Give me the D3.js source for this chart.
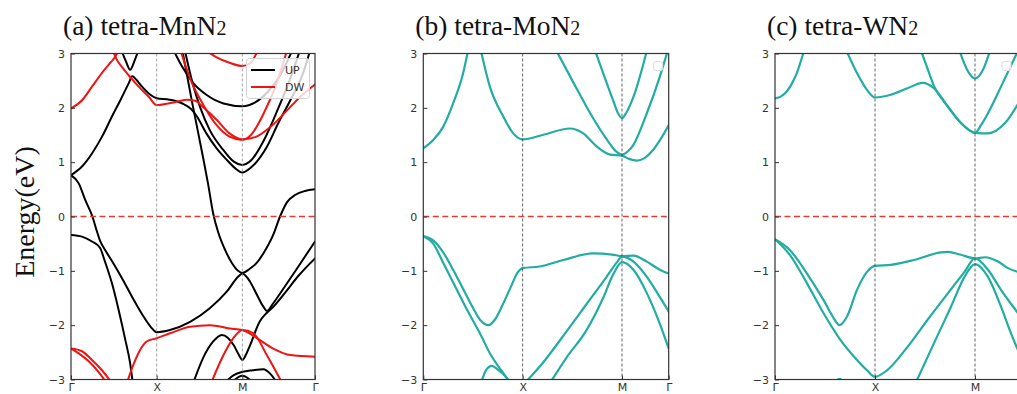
<!DOCTYPE html>
<html><head><meta charset="utf-8">
<script src="https://cdn.jsdelivr.net/npm/d3@7"></script>
<style>body{margin:0;background:#fff;overflow:hidden}</style>
</head><body><svg id="c" width="1017" height="394"></svg>
<script>
// ---------------- data ----------------
const kLabels = ["Γ","X","M","Γ"];
const yTicks = [-3,-2,-1,0,1,2,3];
const kPathA = [0,1,2,2.848];
const kPathB = [0,1,2,2.47];
const kPathC = [0,1,2,2.47];
const titleMain = ["(a) tetra-MnN","(b) tetra-MoN","(c) tetra-WN"];
const titleSub = ["2","2","2"];
const legendLabels = ["UP","DW"];

// tetra-MnN2 spin up (black)
const mnUp = [
 [[0,0.76],[0.128,0.92],[0.245,1.16],[0.362,1.47],[0.478,1.84],[0.576,2.14],[0.673,2.45],[0.715,2.58],[0.76,2.52],[0.829,2.39],[0.926,2.24],[1.0,2.175],[1.15,2.15],[1.3,2.08],[1.4,1.98],[1.47,1.84],[1.58,1.53],[1.70,1.255],[1.82,1.04],[1.915,0.89],[2.0,0.81],[2.1,0.9],[2.285,1.28],[2.42,1.72],[2.56,2.14],[2.70,2.6],[2.79,3.05]],
 [[0.59,3.05],[0.64,2.86],[0.69,2.70],[0.74,2.86],[0.785,3.05]],
 [[0,0.76],[0.09,0.61],[0.167,0.30],[0.25,0.0],[0.30,-0.26],[0.34,-0.45],[0.40,-0.62],[0.478,-0.82],[0.6,-1.15],[0.72,-1.5],[0.83,-1.8],[0.93,-2.03],[1.0,-2.13],[1.155,-2.09],[1.39,-1.94],[1.62,-1.69],[1.82,-1.38],[1.95,-1.11],[2.0,-1.05],[2.09,-1.2],[2.17,-1.44],[2.245,-1.66],[2.29,-1.74],[2.35,-1.62],[2.5,-1.28],[2.65,-0.93],[2.848,-0.46]],
 [[0,-0.34],[0.128,-0.37],[0.245,-0.46],[0.34,-0.58],[0.39,-0.8],[0.478,-1.23],[0.556,-1.72],[0.634,-2.27],[0.69,-2.7],[0.72,-3.05]],
 [[1.30,3.05],[1.42,2.05],[1.54,1.1],[1.60,0.6],[1.66,0.05],[1.72,-0.3],[1.80,-0.62],[1.88,-0.86],[1.95,-1.0],[2.0,-1.04],[2.08,-0.97],[2.17,-0.85],[2.245,-0.68],[2.36,-0.34],[2.44,0.0],[2.52,0.26],[2.62,0.40],[2.73,0.47],[2.848,0.5]],
 [[1.20,3.05],[1.30,2.75],[1.43,2.45],[1.58,2.24],[1.78,2.08],[2.0,2.03],[2.15,2.1],[2.3,2.3],[2.45,2.62],[2.58,3.05]],
 [[1.33,3.05],[1.42,2.45],[1.51,2.0],[1.62,1.59],[1.78,1.22],[1.9,1.01],[2.0,0.95],[2.1,1.03],[2.25,1.4],[2.4,1.92],[2.55,2.5],[2.67,3.05]],
 [[1.43,-3.05],[1.54,-2.61],[1.66,-2.30],[1.76,-2.18],[1.83,-2.23],[1.90,-2.37],[1.96,-2.55],[2.0,-2.64],[2.04,-2.55],[2.09,-2.37],[2.20,-1.94],[2.28,-1.78],[2.35,-1.68],[2.5,-1.4],[2.65,-1.1],[2.848,-0.77]],
 [[1.80,-3.05],[1.9,-2.92],[2.0,-2.86],[2.12,-2.83],[2.245,-2.81],[2.33,-2.9],[2.40,-3.05]],
 [[1.88,-3.05],[2.0,-2.93],[2.12,-3.05]]
];
// tetra-MnN2 spin down (red)
const mnDw = [
 [[0,1.99],[0.13,2.14],[0.245,2.39],[0.36,2.64],[0.47,2.85],[0.52,2.95],[0.55,3.05]],
 [[0.49,3.05],[0.53,2.9],[0.6,2.74],[0.673,2.6],[0.79,2.39],[0.91,2.2],[1.0,2.05],[1.2,2.1],[1.35,2.15],[1.45,2.13],[1.55,2.0],[1.7,1.78],[1.85,1.53],[2.0,1.42],[2.15,1.46],[2.35,1.68],[2.55,2.0],[2.7,2.24],[2.848,2.43]],
 [[1.28,3.05],[1.4,2.5],[1.55,2.04],[1.7,1.68],[1.85,1.47],[2.0,1.41],[2.1,1.5],[2.25,1.9],[2.4,2.45],[2.52,3.05]],
 [[1.58,3.05],[1.7,2.93],[1.85,2.83],[2.0,2.77],[2.09,2.82],[2.18,3.05]],
 [[0,-2.43],[0.128,-2.48],[0.245,-2.64],[0.362,-2.83],[0.47,-3.05]],
 [[0,-2.43],[0.09,-2.52],[0.21,-2.67],[0.32,-2.86],[0.41,-3.05]],
 [[0.655,-3.05],[0.73,-2.72],[0.805,-2.46],[0.883,-2.3],[1.0,-2.24],[1.155,-2.15],[1.39,-2.03],[1.62,-2.0],[1.855,-2.06],[2.0,-2.09],[2.17,-2.24],[2.36,-2.43],[2.56,-2.55],[2.848,-2.58]],
 [[1.64,-3.05],[1.78,-2.55],[1.895,-2.24],[2.0,-2.09],[2.13,-2.15],[2.285,-2.55],[2.46,-3.05]]
];
// tetra-MoN2 (teal)
const moBands = [
 [[0,1.255],[0.10,1.41],[0.20,1.65],[0.30,2.08],[0.40,2.63],[0.45,3.05]],
 [[0.58,3.05],[0.67,2.39],[0.805,1.84],[0.905,1.53],[1.0,1.42],[1.2,1.5],[1.476,1.62],[1.61,1.53],[1.745,1.29],[1.88,1.14],[2.0,1.12],[2.07,1.06],[2.148,1.03],[2.23,1.08],[2.31,1.22],[2.39,1.43],[2.47,1.68]],
 [[1.34,3.05],[1.515,2.45],[1.68,1.9],[1.85,1.41],[1.94,1.2],[2.0,1.14],[2.06,1.2],[2.115,1.32],[2.25,1.9],[2.38,2.57],[2.46,3.05]],
 [[1.73,3.05],[1.91,2.14],[1.96,1.9],[2.0,1.81],[2.04,1.9],[2.115,2.2],[2.25,3.05]],
 [[0,-0.36],[0.1,-0.44],[0.2,-0.66],[0.3,-0.98],[0.4,-1.33],[0.5,-1.68],[0.58,-1.92],[0.654,-2.0],[0.72,-1.9],[0.8,-1.62],[0.88,-1.3],[0.95,-1.03],[1.0,-0.95],[1.17,-0.92],[1.41,-0.8],[1.71,-0.68],[1.9,-0.7],[2.0,-0.73],[2.115,-0.72],[2.25,-0.83],[2.38,-0.98],[2.47,-1.05]],
 [[0,-0.36],[0.1,-0.5],[0.2,-0.85],[0.33,-1.32],[0.45,-1.75],[0.57,-2.15],[0.68,-2.55],[0.78,-2.82],[0.87,-3.05]],
 [[0.585,-3.05],[0.63,-2.83],[0.69,-2.75],[0.75,-2.82],[0.84,-2.97],[0.87,-3.05]],
 [[1.03,-3.05],[1.2,-2.7],[1.44,-2.12],[1.64,-1.62],[1.845,-1.11],[1.95,-0.84],[2.0,-0.74],[2.115,-0.83],[2.25,-1.11],[2.38,-1.48],[2.47,-1.75]],
 [[1.28,-3.05],[1.44,-2.6],[1.64,-2.1],[1.81,-1.5],[1.91,-1.07],[2.0,-0.84],[2.115,-0.98],[2.25,-1.41],[2.38,-1.97],[2.47,-2.43]]
];
// tetra-WN2 (teal)
const wBands = [
 [[0,2.175],[0.06,2.21],[0.117,2.30],[0.17,2.45],[0.218,2.64],[0.29,3.05]],
 [[0.715,3.05],[0.82,2.64],[0.92,2.33],[1.0,2.19],[1.157,2.24],[1.325,2.36],[1.476,2.46],[1.59,2.36],[1.73,2.02],[1.86,1.72],[1.95,1.58],[2.0,1.54],[2.13,1.53],[2.30,1.72],[2.47,2.2]],
 [[1.46,3.05],[1.52,2.75],[1.59,2.40],[1.73,2.02],[1.86,1.72],[1.95,1.58],[2.0,1.54],[2.06,1.68],[2.13,1.9],[2.26,2.39],[2.43,3.05]],
 [[1.845,3.05],[1.93,2.67],[2.0,2.54],[2.08,2.70],[2.15,3.05]],
 [[0,-0.42],[0.15,-0.62],[0.32,-1.05],[0.486,-1.54],[0.587,-1.87],[0.644,-2.0],[0.72,-1.84],[0.82,-1.35],[0.92,-1.02],[1.0,-0.91],[1.157,-0.89],[1.39,-0.80],[1.66,-0.66],[1.73,-0.65],[1.85,-0.7],[2.0,-0.77],[2.10,-0.75],[2.23,-0.83],[2.33,-0.95],[2.47,-1.04]],
 [[0,-0.42],[0.15,-0.71],[0.32,-1.23],[0.486,-1.78],[0.654,-2.27],[0.82,-2.64],[0.92,-2.83],[1.0,-2.95],[1.12,-2.83],[1.325,-2.4],[1.526,-1.9],[1.73,-1.41],[1.895,-1.02],[2.0,-0.77],[2.13,-0.98],[2.26,-1.35],[2.43,-1.78],[2.47,-1.88]],
 [[1.41,-3.05],[1.59,-2.33],[1.76,-1.66],[1.895,-1.11],[2.0,-0.875],[2.13,-1.11],[2.26,-1.66],[2.36,-2.15],[2.43,-2.46],[2.47,-2.62]],
 [[0.6,-3.05],[0.645,-2.99],[0.69,-3.05]]
];

// ---------------- drawing ----------------
const W = 1017;
const svg = d3.select("#c");
const TOP = 53.5, BOTTOM = 379.5;
const yScale = d3.scaleLinear().domain([-3,3]).range([BOTTOM, TOP]);
const RED = "#ee1414", TEAL = "#22ada3";
const fmtY = d3.format("d");

const panels = [
  {id:"a", left:71, right:315, kPath:kPathA, vColor:"#8c8c8c",
   series:[{bands:mnUp,color:"#000",w:2},{bands:mnDw,color:RED,w:2}], legend:"full"},
  {id:"b", left:423.3, right:668.7, kPath:kPathB, vColor:"#3c3c3c",
   series:[{bands:moBands,color:TEAL,w:2.2}], legend:"empty"},
  {id:"c", left:775, right:1022, kPath:kPathC, vColor:"#3c3c3c",
   series:[{bands:wBands,color:TEAL,w:2.2}], legend:"empty"}
];

const defs = svg.append("defs");

panels.forEach((p,i)=>{
  const x = d3.scaleLinear().domain([0, p.kPath[p.kPath.length-1]]).range([p.left, p.right]);
  defs.append("clipPath").attr("id","clip"+p.id)
    .append("rect").attr("x",p.left).attr("y",TOP).attr("width",p.right-p.left).attr("height",BOTTOM-TOP);
  const g = svg.append("g");
  const plot = g.append("g").attr("clip-path",`url(#clip${p.id})`);
  const line = d3.line().x(d=>x(d[0])).y(d=>yScale(d[1])).curve(d3.curveMonotoneX);

  p.series.forEach(s=>{
    plot.append("g").selectAll("path").data(s.bands).join("path")
      .attr("d", line).attr("fill","none").attr("stroke", s.color)
      .attr("stroke-width", s.w).attr("stroke-linejoin","round").attr("stroke-linecap","round");
  });

  // high-symmetry vertical lines
  plot.append("g").selectAll("line").data(p.kPath.slice(1, p.kPath.length-1)).join("line")
    .attr("x1", d=>x(d)).attr("x2", d=>x(d)).attr("y1", TOP).attr("y2", BOTTOM)
    .attr("stroke", p.vColor).attr("stroke-width", 0.8).attr("stroke-dasharray","3,2");

  // Fermi level
  plot.append("line").attr("x1",p.left).attr("x2",p.right)
    .attr("y1",yScale(0)).attr("y2",yScale(0))
    .attr("stroke","#e23a36").attr("stroke-width",1.6).attr("stroke-dasharray","6,3.5");

  // axes
  const ya = g.append("g").attr("transform",`translate(${p.left},0)`)
    .call(d3.axisLeft(yScale).tickValues(yTicks).tickFormat(fmtY).tickSizeInner(-4).tickSizeOuter(0).tickPadding(6));
  const visibleK = p.kPath.filter(d => x(d) < W - 4);
  const xa = g.append("g").attr("transform",`translate(0,${BOTTOM})`)
    .call(d3.axisBottom(x).tickValues(visibleK).tickFormat(d => kLabels[p.kPath.indexOf(d)]).tickSizeInner(-4).tickSizeOuter(0).tickPadding(4));
  [ya,xa].forEach(a=>{
    a.select(".domain").remove();
    a.selectAll(".tick line").attr("stroke","#333").attr("stroke-width",1);
    a.selectAll(".tick text").attr("fill","#333").style("font-family","'DejaVu Sans', sans-serif").style("font-size","11px");
  });

  // frame
  g.append("rect").attr("x",p.left).attr("y",TOP).attr("width",p.right-p.left).attr("height",BOTTOM-TOP)
    .attr("fill","none").attr("stroke","#333").attr("stroke-width",1.2);

  // title
  const t = g.append("text").attr("x", p.left-8).attr("y", 35)
    .style("font-family","'Liberation Serif','Times New Roman',serif").style("font-size","27.5px").attr("fill","#111");
  t.append("tspan").text(titleMain[i]);
  t.append("tspan").style("font-size","20px").text(titleSub[i]);

  // legends
  if (p.legend === "full") {
    const lg = g.append("g");
    lg.append("rect").attr("x", p.right-68.5).attr("y", TOP+5).attr("width", 63).attr("height", 40).attr("rx",3)
      .attr("fill","#fff").attr("fill-opacity",0.8).attr("stroke","#d4d4d4").attr("stroke-width",1);
    const cols = ["#000", RED];
    legendLabels.forEach((lab,j)=>{
      const yy = TOP + 16.5 + j*17;
      lg.append("line").attr("x1",p.right-64).attr("x2",p.right-40).attr("y1",yy).attr("y2",yy)
        .attr("stroke",cols[j]).attr("stroke-width",2);
      lg.append("text").attr("x",p.right-30).attr("y",yy).attr("dy","0.36em").text(lab)
        .style("font-family","'DejaVu Sans', sans-serif").style("font-size","11px").attr("fill","#333");
    });
  } else {
    const bx = Math.min(p.right, W) - 15;
    g.append("rect").attr("x", bx).attr("y", TOP+8).attr("width", 9).attr("height", 9).attr("rx",2)
      .attr("fill","#fff").attr("fill-opacity",0.8).attr("stroke","#dedede").attr("stroke-width",1);
  }
});

// y-axis label
svg.append("text").attr("transform","translate(34,212) rotate(-90)").attr("text-anchor","middle")
  .style("font-family","'Liberation Serif','Times New Roman',serif").style("font-size","28px").attr("fill","#111")
  .text("Energy(eV)");
</script>
</body></html>
